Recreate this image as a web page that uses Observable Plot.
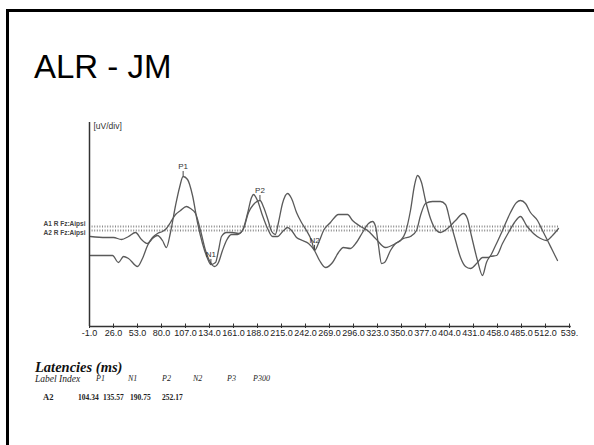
<!DOCTYPE html>
<html><head><meta charset="utf-8">
<script src="https://cdn.jsdelivr.net/npm/d3@7"></script>
<script src="https://cdn.jsdelivr.net/npm/@observablehq/plot@0.6"></script>
<style>
body{margin:0;background:#fff;width:594px;height:445px;overflow:hidden;position:relative;font-family:"Liberation Sans",Arial,sans-serif}
#frameTop{position:absolute;left:6px;top:9px;right:0;height:3px;background:#000}
#frameLeft{position:absolute;left:6px;top:9px;width:3px;bottom:0;background:#000}
#title{position:absolute;left:34px;top:50px;font-size:33px;line-height:1;color:#000;white-space:nowrap}
#chart{position:absolute;left:0;top:110px}
.s{position:absolute;white-space:nowrap;line-height:1;font-family:"Liberation Serif","Times New Roman",serif;color:#222}
</style></head><body>
<div id="frameTop"></div><div id="frameLeft"></div>
<div id="title">ALR - JM</div>
<div id="chart"></div>
<div id="lat"></div>
<script>
// ---- data ----
const titleText = "ALR - JM";
const xTicks = [-1,26,53,80,107,134,161,188,215,242,269,296,323,350,377,404,431,458,485,512,539];
const xTickLabels = ["-1.0","26.0","53.0","80.0","107.0","134.0","161.0","188.0","215.0","242.0","269.0","296.0","323.0","350.0","377.0","404.0","431.0","458.0","485.0","512.0","539."];
const yUnitLabel = "[uV/div]";
const channelLabels = ["A1 R Fz:Aipsi","A2 R Fz:Aipsi"];
const channelBaselines = [0.4, 0.0];

const a2Time = [0.1,17.0,26.0,35.0,42.9,50.8,57.5,64.3,69.9,75.5,81.1,85.6,90.1,95.8,100.3,104.3,109.3,114.9,120.5,126.1,131.8,135.6,140.8,144.1,147.5,153.1,159.9,166.6,172.3,177.9,183.5,190.8,195.0,200.0,204.0,208.0,211.6,216.1,221.8,226.3,231.9,237.5,243.1,248.8,252.2,257.8,262.3,270.1,279.1,289.3,294.9,303.9,311.8,320.8,332.0,343.3,352.3,360.1,366.9,371.4,377.0,384.9,393.9,399.5,405.1,410.8,416.4,422.0,427.6,435.5,441.1,447.9,455.8,463.6,472.6,479.4,483.9,489.5,495.1,503.0,508.6,514.3,519.9,525.5];
const a2Amp  = [-0.6,-0.7,-0.7,-0.9,-0.6,-0.2,-0.9,-1.3,-0.8,-0.5,-1.0,-1.7,-0.2,2.5,4.3,5.4,5.1,3.5,0.8,-1.3,-2.8,-3.4,-3.2,-2.0,-0.6,-0.2,-0.2,-0.3,0.2,1.8,2.6,3.0,2.3,1.0,-0.1,-0.4,0.8,2.7,3.7,3.2,1.8,0.8,0.0,-1.0,-2.0,-1.0,0.0,0.8,1.6,1.6,1.0,0.4,0.0,-0.8,-1.7,-1.3,-0.8,-0.6,0.0,1.5,2.7,2.9,2.9,2.6,0.8,-1.0,-2.7,-3.6,-3.8,-3.2,-2.7,-2.7,-1.5,0.0,1.8,2.8,3.0,2.7,1.8,1.0,0.0,-1.0,-2.0,-3.0];

const a1Time = [0.1,24.9,31.6,37.3,42.9,53.0,58.6,64.3,69.9,75.5,81.1,85.6,90.1,95.8,101.4,108.1,112.6,118.3,123.9,129.5,135.1,139.6,144.1,148.6,153.1,158.8,165.5,171.1,176.8,181.3,183.5,188.0,193.6,199.3,204.9,210.5,217.3,221.8,226.3,231.9,238.6,245.4,252.1,257.8,264.5,272.4,279.1,284.6,292.6,299.3,306.1,312.9,317.4,320.8,324.1,327.5,330.9,337.6,343.3,348.9,354.4,360.1,364.6,368.0,372.5,377.0,382.6,389.4,393.9,401.8,410.8,419.6,424.1,428.6,435.5,441.1,445.6,450.1,456.9,463.6,470.4,477.1,483.9,490.6,498.5,506.4,513.0,519.9,526.6];
const a1Amp  = [-2.5,-2.5,-3.2,-2.6,-2.8,-3.6,-2.8,-1.5,-0.7,-0.3,-0.1,0.2,0.8,1.6,2.0,2.4,2.2,1.7,0.0,-2.0,-3.2,-3.6,-3.2,-2.0,-1.0,-0.4,-0.4,0.0,1.7,3.3,3.6,3.0,1.5,0.2,-0.6,-0.6,0.0,0.3,0.0,-0.7,-1.0,-1.3,-2.0,-3.0,-3.7,-3.2,-2.2,-1.7,-1.8,-1.2,-0.2,0.7,0.9,0.4,-1.5,-3.3,-3.2,-2.0,-1.3,-1.0,-0.2,2.0,4.5,5.5,4.8,3.0,1.2,0.0,-0.2,0.2,1.0,1.7,1.2,-0.5,-3.0,-4.5,-3.2,-2.6,-2.5,-1.3,-0.2,0.8,1.4,0.5,-0.3,-0.8,-1.0,-0.5,0.2];

const latencyTitle = "Latencies (ms)";
const latencyHeaders = ["Label Index","P1","N1","P2","N2","P3","P300"];
const latencyRowLabel = "A2";
const peakNames = ["P1","N1","P2","N2"];
const peakLatencies = [104.34,135.57,190.75,252.17];

// ---- build ----
document.getElementById("title").textContent = titleText;
const a1 = a1Time.map((t,i)=>({t, v:a1Amp[i]}));
const a2 = a2Time.map((t,i)=>({t, v:a2Amp[i]}));
function interp(ts, vs, t){
  for(let i=0;i<ts.length-1;i++){ if(t>=ts[i] && t<=ts[i+1]){ const f=(t-ts[i])/(ts[i+1]-ts[i]); return vs[i]+f*(vs[i+1]-vs[i]); } }
  return vs[vs.length-1];
}
const peaks = peakNames.map((n,i)=>({n, t:peakLatencies[i], v:interp(a2Time,a2Amp,peakLatencies[i])}));
const yMin = -9.6, yTop = 10.8;

const plot = Plot.plot({
  width:594, height:235, marginLeft:89, marginRight:25, marginTop:10, marginBottom:19,
  style:{fontFamily:"Liberation Sans, Arial, sans-serif", background:"transparent", overflow:"visible"},
  x:{domain:[-1,539], axis:null},
  y:{domain:[yMin,11], axis:null},
  marks:[
    Plot.ruleY(channelBaselines, {y:d=>d, x1:-1, x2:527, stroke:"#8a8a8a", strokeWidth:2, strokeDasharray:"1,1.6"}),
    Plot.text([channelLabels[0]], {x:-1, y:channelBaselines[0], text:d=>d, dx:-4, dy:-3, textAnchor:"end", fontSize:6.5, fontWeight:"bold", fill:"#444"}),
    Plot.text([channelLabels[1]], {x:-1, y:channelBaselines[1], text:d=>d, dx:-4, dy:2, textAnchor:"end", fontSize:6.5, fontWeight:"bold", fill:"#444"}),
    Plot.line(a1, {x:"t", y:"v", stroke:"#5a5a5a", strokeWidth:1.3, curve:"monotone-x"}),
    Plot.line(a2, {x:"t", y:"v", stroke:"#5a5a5a", strokeWidth:1.3, curve:"monotone-x"}),
    Plot.ruleX(peaks, {x:"t", y1:"v", y2:d=>d.v+0.5, stroke:"#444", strokeWidth:1}),
    Plot.text(peaks, {x:"t", y:"v", text:"n", dy:-10, fontSize:8, fill:"#333"}),
    Plot.ruleX([-1], {y1:yMin, y2:yTop, stroke:"#333", strokeWidth:1.5}),
    Plot.ruleY([yMin], {x1:-1, x2:541, stroke:"#333", strokeWidth:1.5}),
    Plot.ruleX(xTicks, {x:d=>d, y1:yMin-0.2, y2:yMin+0.25, stroke:"#333", strokeWidth:1}),
    Plot.axisX(xTicks, {tickSize:0, tickPadding:3, fontSize:9, fill:"#222", label:null, tickFormat:d=>xTickLabels[xTicks.indexOf(d)]}),
    Plot.text([yUnitLabel], {x:-1, y:yTop, dx:4, text:d=>d, textAnchor:"start", lineAnchor:"top", fontSize:8.5, fill:"#333"})
  ]
});
document.getElementById("chart").appendChild(plot);

// ---- latency table ----
const lat = document.getElementById("lat");
function addSpan(txt, left, top, css){ const s=document.createElement("span"); s.className="s"; s.textContent=txt; s.style.left=left+"px"; s.style.top=top+"px"; s.style.cssText+=css; lat.appendChild(s); }
addSpan(latencyTitle, 35, 360, "font-size:14.5px;font-weight:bold;font-style:italic;color:#111");
const headerLeft = [35,96,128,162,193,227,253];
latencyHeaders.forEach((h,i)=>addSpan(h, headerLeft[i], 375, "font-size:"+(i===0?9.5:8)+"px;font-style:italic"));
addSpan(latencyRowLabel, 43, 393, "font-size:8.5px;font-weight:bold");
const valueLeft = [78,103,130,162];
peakLatencies.forEach((v,i)=>addSpan(v.toFixed(2), valueLeft[i], 394, "font-size:7.5px;font-weight:bold"));
</script>
</body></html>
